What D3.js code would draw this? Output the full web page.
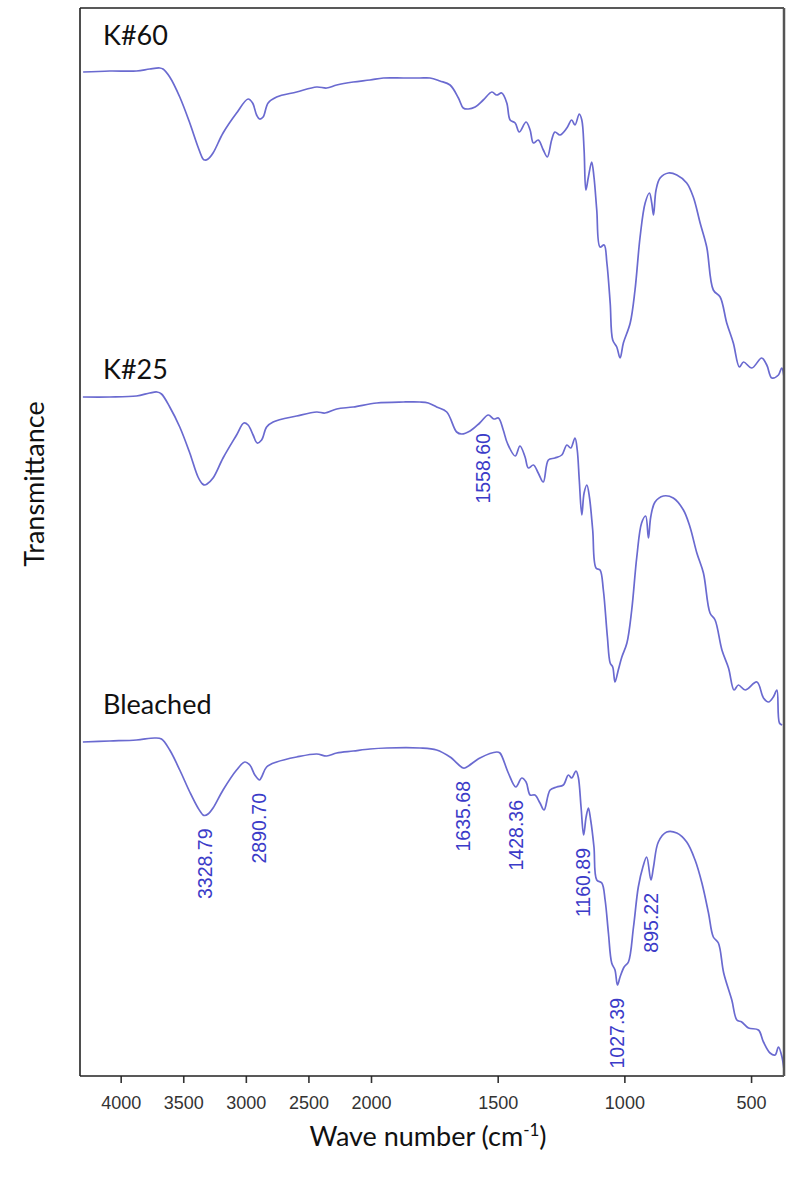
<!DOCTYPE html>
<html>
<head>
<meta charset="utf-8">
<script src="https://cdn.jsdelivr.net/npm/d3@7"></script>
<style>
  html, body { margin: 0; padding: 0; background: #fff; }
  svg { display: block; }
</style>
</head>
<body>
<svg id="chart" width="792" height="1180"></svg>
<script>
// FTIR spectra: [wavenumber (cm-1), transmittance (a.u., stacked)]
const seriesNames = ["K#60", "K#25", "Bleached"];

const k60 = [
  [4300,100.4],[4088,100.5],[3874,100.5],[3768,100.7],[3688,100.8],[3662,100.7],[3608,99.9],
  [3528,97.9],[3448,95.3],[3382,92.9],[3342,91.7],[3329,91.6],[3302,91.7],[3262,92.3],
  [3182,94.3],[3074,96.3],[2982,97.7],[2946,97.3],[2914,96.1],[2890,95.7],[2862,95.9],
  [2822,97.3],[2754,97.9],[2594,98.4],[2434,98.9],[2354,98.8],[2274,99.1],[2142,99.4],
  [2008,99.6],[1951,99.8],[1872,99.8],[1807,99.8],[1767,99.8],[1728,99.5],[1688,99.1],
  [1655,97.8],[1636,96.8],[1616,96.7],[1589,96.9],[1557,97.6],[1523,98.4],[1504,98.1],
  [1484,98.3],[1464,97.3],[1451,95.6],[1431,95.3],[1415,94.4],[1388,95.4],[1372,94.6],
  [1359,93.3],[1340,93.6],[1320,92.6],[1304,91.9],[1287,93.6],[1274,94.4],[1254,94.1],
  [1227,94.8],[1208,95.6],[1195,95.1],[1178,96.2],[1168,95.6],[1159,92.6],[1152,88.6],
  [1142,89.9],[1129,91.4],[1120,89.9],[1109,86.6],[1096,82.9],[1080,83.1],[1069,81.3],
  [1056,77.3],[1046,73.6],[1030,72.9],[1017,71.8],[1004,73.3],[977,75.3],[958,78.6],
  [938,83.9],[918,87.3],[901,88.3],[892,87.3],[885,86.1],[875,88.6],[859,89.8],[826,90.3],
  [793,90.1],[754,89.3],[728,87.9],[701,85.3],[675,82.9],[649,78.6],[622,77.9],[596,75.3],
  [570,73.3],[546,70.9],[530,71.4],[497,70.8],[458,71.8],[438,71.1],[418,69.8],[392,70.1],
  [379,70.8],[370,69.9]
];

const k25 = [
  [4302,67.9],[4088,67.9],[3874,68.0],[3768,68.3],[3710,68.4],[3674,68.2],[3608,66.9],
  [3528,64.9],[3448,62.3],[3382,59.9],[3346,59.2],[3328,59.1],[3310,59.2],[3262,59.8],
  [3182,61.8],[3074,64.1],[3016,65.3],[2982,65.1],[2942,64.1],[2910,63.3],[2874,63.6],
  [2834,64.9],[2782,65.4],[2594,66.0],[2434,66.4],[2368,66.3],[2274,66.7],[2142,66.9],
  [1977,67.3],[1872,67.4],[1807,67.4],[1774,67.3],[1741,66.9],[1701,66.4],[1662,64.4],
  [1642,64.2],[1609,64.5],[1571,65.3],[1537,66.1],[1515,65.7],[1497,65.8],[1478,64.6],
  [1462,63.3],[1431,62.0],[1412,63.0],[1392,61.9],[1379,60.8],[1359,61.1],[1340,60.3],
  [1320,59.4],[1300,61.6],[1274,61.8],[1247,62.1],[1227,63.1],[1212,62.8],[1195,63.8],
  [1186,62.6],[1178,59.6],[1168,56.1],[1159,58.3],[1148,59.1],[1138,57.9],[1125,54.6],
  [1112,50.8],[1096,50.6],[1083,48.6],[1067,43.9],[1056,41.3],[1046,40.9],[1037,39.4],
  [1024,40.6],[1010,41.9],[990,43.3],[971,46.6],[951,51.9],[932,55.3],[916,56.0],[905,53.8],
  [896,55.9],[879,57.4],[846,58.0],[807,57.8],[767,56.6],[741,54.9],[714,52.3],[688,50.3],
  [662,46.3],[642,45.6],[615,42.6],[589,40.8],[567,38.6],[550,39.1],[523,38.6],[477,39.4],
  [451,37.8],[431,37.4],[412,37.9],[398,38.6],[388,35.3],[377,35.1]
];

const bleached = [
  [4302,33.4],[4088,33.5],[3874,33.6],[3728,33.8],[3674,33.7],[3608,32.6],[3528,30.6],
  [3448,28.4],[3382,26.8],[3342,26.1],[3328.79,26.05],[3302,26.2],[3262,26.8],[3182,28.6],
  [3074,30.6],[3008,31.4],[2968,31.1],[2928,30.1],[2890.70,29.6],[2874,29.9],[2834,30.9],
  [2754,31.4],[2594,31.9],[2434,32.2],[2354,32.0],[2274,32.3],[2142,32.5],[2008,32.7],
  [1938,32.8],[1807,32.8],[1741,32.6],[1688,31.9],[1635.68,30.8],[1622,30.9],[1570,31.8],
  [1504,32.4],[1491,32.3],[1458,30.3],[1428.36,28.9],[1405,29.8],[1388,29.4],[1372,28.1],
  [1353,28.1],[1333,27.3],[1317,26.6],[1293,28.6],[1267,28.9],[1241,29.1],[1221,30.1],
  [1208,29.8],[1191,30.5],[1182,29.9],[1171,26.9],[1160.89,24.1],[1151,25.9],[1142,26.8],
  [1133,25.6],[1120,22.9],[1109,19.6],[1089,19.3],[1076,17.6],[1063,14.3],[1050,11.3],
  [1037,10.6],[1027.39,9.1],[1017,9.9],[1001,10.9],[984,11.4],[964,14.9],[945,18.9],
  [927,20.9],[912,21.9],[895.22,19.6],[885,20.9],[866,23.4],[833,24.4],[793,24.3],[754,23.4],
  [721,21.6],[694,19.3],[668,16.3],[649,13.9],[629,13.3],[608,10.3],[576,7.6],[556,5.6],
  [537,5.4],[510,4.8],[471,4.6],[451,3.4],[425,2.3],[405,2.1],[392,2.9],[378,1.9],[370,0.6]
];

const seriesData = [k60, k25, bleached];

// Peak positions annotated on the spectra (series index, wavenumber)
const peakSeries = [2, 2, 2, 2, 2, 2, 2, 1];
const peakWavenumbers = [3328.79, 2890.70, 1635.68, 1428.36, 1160.89, 1027.39, 895.22, 1558.60];

const xTickValues = [4000, 3500, 3000, 2500, 2000, 1500, 1000, 500];

// ---- layout ----
const plot = { left: 80, right: 784, top: 8, bottom: 1076 };
const breakX = 371;               // 2000 cm-1: scale expands x2 below it
const nameBaselines = [45, 379, 714];

const svg = d3.select("#chart");

const x = d3.scaleLinear()
  .domain([4325, 2000, 370])
  .range([plot.left, breakX, plot.right]);

const y = d3.scaleLinear()
  .domain([0, 106.8])
  .range([plot.bottom, plot.top]);

svg.append("defs").append("clipPath").attr("id", "plotClip")
  .append("rect")
  .attr("x", plot.left).attr("y", plot.top)
  .attr("width", plot.right - plot.left).attr("height", plot.bottom - plot.top);

// spectra
const line = d3.line()
  .x(d => x(d[0]))
  .y(d => y(d[1]))
  .curve(d3.curveCatmullRom.alpha(0.5));

svg.append("g").attr("clip-path", "url(#plotClip)")
  .selectAll("path")
  .data(seriesData)
  .join("path")
  .attr("d", line)
  .attr("fill", "none")
  .attr("stroke", "#6a6ad0")
  .attr("stroke-width", 1.7)
  .attr("stroke-linejoin", "round");

// value of a spectrum at a given wavenumber (linear interpolation)
function valueAt(series, wn) {
  for (let i = 0; i < series.length - 1; i++) {
    const a = series[i], b = series[i + 1];
    if (wn <= a[0] && wn >= b[0]) {
      const t = (a[0] - wn) / (a[0] - b[0]);
      return a[1] + t * (b[1] - a[1]);
    }
  }
  return series[series.length - 1][1];
}

// peak annotations, rotated, hanging below each band
svg.append("g")
  .selectAll("text")
  .data(peakWavenumbers.map((wn, i) => ({ wn, s: peakSeries[i] })))
  .join("text")
  .attr("transform", d => `translate(${x(d.wn)},${y(valueAt(seriesData[d.s], d.wn)) + 13}) rotate(-90)`)
  .attr("dy", "0.35em")
  .attr("text-anchor", "end")
  .attr("font-family", "'Liberation Sans', Arial, sans-serif")
  .attr("font-size", 19.5)
  .attr("fill", "#3b3bc8")
  .text(d => d.wn.toFixed(2));

// sample names
svg.append("g")
  .selectAll("text")
  .data(seriesNames)
  .join("text")
  .attr("x", 103)
  .attr("y", (d, i) => nameBaselines[i])
  .attr("font-family", "Lato, 'Open Sans', sans-serif")
  .attr("font-size", 27)
  .attr("fill", "#111")
  .text(d => d);

// x axis ticks
const xAxis = d3.axisBottom(x)
  .tickValues(xTickValues)
  .tickSize(7)
  .tickPadding(13)
  .tickFormat(d3.format("d"));

const gx = svg.append("g")
  .attr("transform", `translate(0,${plot.bottom})`)
  .call(xAxis);
gx.select(".domain").remove();
gx.selectAll(".tick line").attr("stroke", "#333").attr("stroke-width", 1.6);
gx.selectAll(".tick text")
  .attr("font-family", "'Liberation Sans', Arial, sans-serif")
  .attr("font-size", 18)
  .attr("fill", "#333");

// frame
const frame = svg.append("g").attr("fill", "none");
frame.append("line")
  .attr("x1", plot.left).attr("x2", plot.right).attr("y1", plot.top).attr("y2", plot.top)
  .attr("stroke", "#222").attr("stroke-width", 1.5);
frame.append("line")
  .attr("x1", plot.left).attr("x2", plot.right).attr("y1", plot.bottom).attr("y2", plot.bottom)
  .attr("stroke", "#222").attr("stroke-width", 1.6);
frame.append("line")
  .attr("x1", plot.left).attr("x2", plot.left).attr("y1", plot.top).attr("y2", plot.bottom)
  .attr("stroke", "#222").attr("stroke-width", 1.6);
frame.append("line")
  .attr("x1", plot.right).attr("x2", plot.right).attr("y1", plot.top).attr("y2", plot.bottom)
  .attr("stroke", "#555").attr("stroke-width", 2.5);

// axis titles
const xTitle = svg.append("text")
  .attr("x", 428)
  .attr("y", 1146)
  .attr("text-anchor", "middle")
  .attr("font-family", "Lato, 'Open Sans', sans-serif")
  .attr("font-size", 27)
  .attr("fill", "#111");
xTitle.append("tspan").text("Wave number (cm");
xTitle.append("tspan").attr("dy", -10).attr("font-size", 17).text("-1");
xTitle.append("tspan").attr("dy", 10).text(")");

svg.append("text")
  .attr("transform", "translate(44,484) rotate(-90)")
  .attr("text-anchor", "middle")
  .attr("font-family", "Lato, 'Open Sans', sans-serif")
  .attr("font-size", 27)
  .attr("fill", "#111")
  .text("Transmittance");
</script>
</body>
</html>
